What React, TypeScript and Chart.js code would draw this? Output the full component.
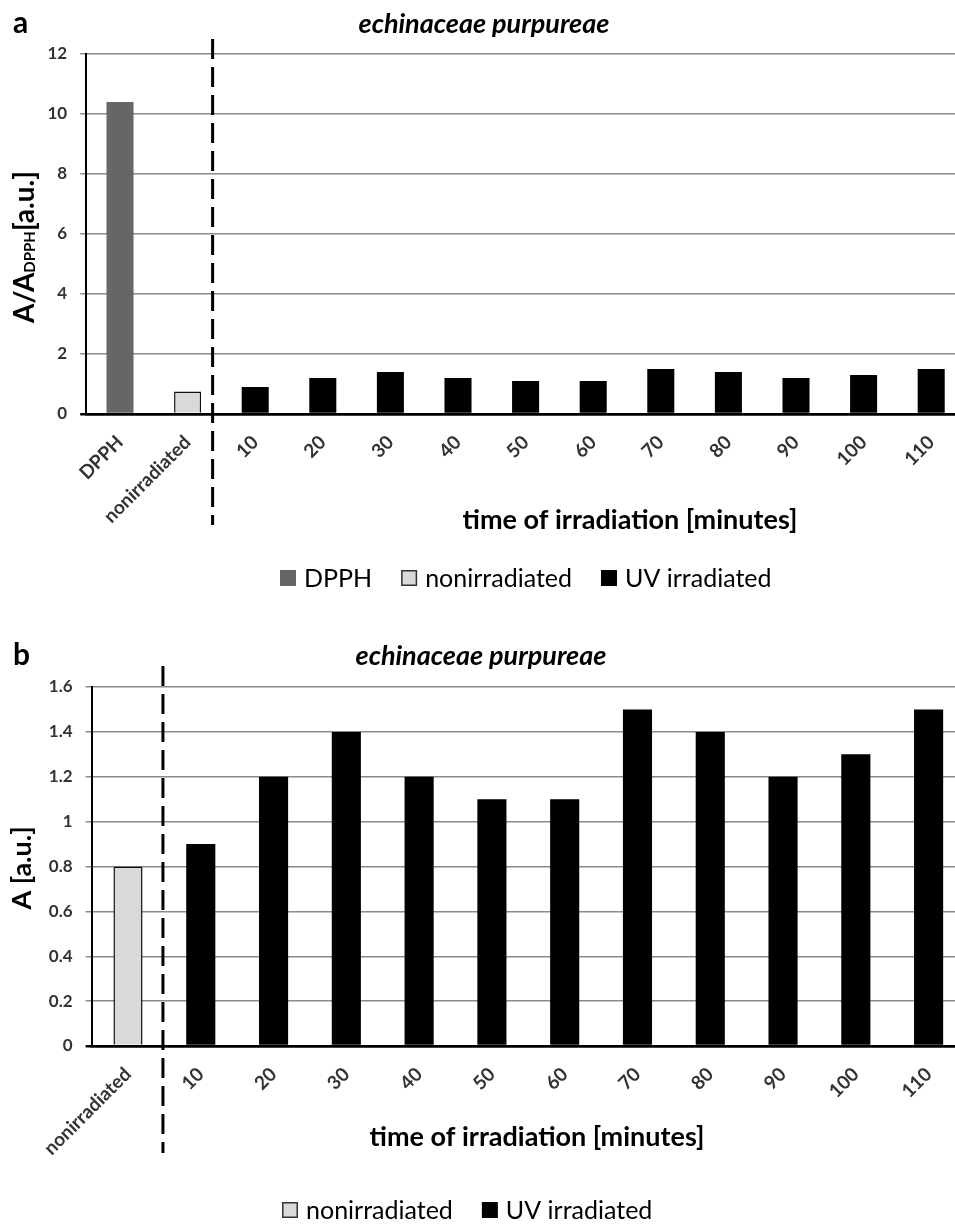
import React, { useEffect, useRef } from 'react';
import { Chart, registerables } from 'chart.js';

Chart.register(...registerables);

// ---------------- data ----------------
const categoriesA = ['DPPH', 'nonirradiated', '10', '20', '30', '40', '50', '60', '70', '80', '90', '100', '110'];
const dpphA = [10.4, null, null, null, null, null, null, null, null, null, null, null, null];
const nonirradiatedA = [null, 0.75, null, null, null, null, null, null, null, null, null, null, null];
const uvA = [null, null, 0.9, 1.2, 1.4, 1.2, 1.1, 1.1, 1.5, 1.4, 1.2, 1.3, 1.5];
const yTicksA = [0, 2, 4, 6, 8, 10, 12];

const categoriesB = ['nonirradiated', '10', '20', '30', '40', '50', '60', '70', '80', '90', '100', '110'];
const nonirradiatedB = [0.8, null, null, null, null, null, null, null, null, null, null, null];
const uvB = [null, 0.9, 1.2, 1.4, 1.2, 1.1, 1.1, 1.5, 1.4, 1.2, 1.3, 1.5];
const yTicksB = [0, 0.2, 0.4, 0.6, 0.8, 1.0, 1.2, 1.4, 1.6];

const seriesLabels = ['DPPH', 'nonirradiated', 'UV irradiated'];
const plantTitle = 'echinaceae purpureae';
const xAxisTitle = 'time of irradiation [minutes]';

// ---------------- styles ----------------
const FONT = 'Lato';
const COL_DPPH = '#666666';
const COL_NON = '#d9d9d9';
const COL_UV = '#000000';

type Part = { text: string; size: number; dy: number };
type DecorCfg = {
  letter: string; letterX: number; letterY: number;
  titleX: number; titleY: number;
  xTitleX: number; xTitleY: number;
  yTitleX: number; yTitleY: number; yTitleParts: Part[];
  dividerIndex: number; dividerFrac: number; dividerTop: number; dividerBottom: number;
  legendX: number; legendY: number;
};

function makeDecor(cfg: DecorCfg) {
  return {
    id: 'decor',
    afterDraw(chart: any) {
      const ctx: CanvasRenderingContext2D = chart.ctx;
      const xs = chart.scales.x;
      ctx.save();
      ctx.fillStyle = '#000';
      ctx.textBaseline = 'alphabetic';

      // panel letter
      ctx.textAlign = 'left';
      ctx.font = `bold 30px ${FONT}`;
      ctx.fillText(cfg.letter, cfg.letterX, cfg.letterY);

      // title
      ctx.textAlign = 'center';
      ctx.font = `italic bold 27px ${FONT}`;
      ctx.fillText(plantTitle, cfg.titleX, cfg.titleY);

      // x axis title
      ctx.font = `bold 27px ${FONT}`;
      ctx.fillText(xAxisTitle, cfg.xTitleX, cfg.xTitleY);

      // y axis title (with subscript)
      ctx.save();
      ctx.translate(cfg.yTitleX, cfg.yTitleY);
      ctx.rotate(-Math.PI / 2);
      ctx.textAlign = 'left';
      const widths = cfg.yTitleParts.map((p) => {
        ctx.font = `bold ${p.size}px ${FONT}`;
        return ctx.measureText(p.text).width;
      });
      const total = widths.reduce((a, b) => a + b, 0);
      let px = -total / 2;
      cfg.yTitleParts.forEach((p, i) => {
        ctx.font = `bold ${p.size}px ${FONT}`;
        ctx.fillText(p.text, px, p.dy);
        px += widths[i];
      });
      ctx.restore();

      // dashed divider
      const step = xs.getPixelForValue(1) - xs.getPixelForValue(0);
      const dx = xs.getPixelForValue(cfg.dividerIndex) + cfg.dividerFrac * step;
      ctx.strokeStyle = '#000';
      ctx.lineWidth = 3;
      ctx.setLineDash([20, 8]);
      ctx.beginPath();
      ctx.moveTo(dx, cfg.dividerTop);
      ctx.lineTo(dx, cfg.dividerBottom);
      ctx.stroke();
      ctx.setLineDash([]);

      // legend
      ctx.font = `25px ${FONT}`;
      ctx.textAlign = 'left';
      let lx = cfg.legendX;
      const box = 16;
      chart.data.datasets.forEach((ds: any) => {
        const top = cfg.legendY - box - 1;
        ctx.fillStyle = ds.backgroundColor;
        ctx.fillRect(lx, top, box, box);
        if (ds.borderWidth) {
          ctx.strokeStyle = '#333';
          ctx.lineWidth = 1.5;
          ctx.strokeRect(lx + 0.75, top + 0.75, box - 1.5, box - 1.5);
        }
        lx += box + 8;
        ctx.fillStyle = '#000';
        ctx.fillText(ds.label, lx, cfg.legendY);
        lx += ctx.measureText(ds.label).width + 29;
      });

      ctx.restore();
    },
  };
}

function baseOptions(yTicks: number[], yWidth: number, xHeight: number, top: number) {
  const step = yTicks[1] - yTicks[0];
  return {
    animation: false,
    responsive: false,
    maintainAspectRatio: false,
    layout: { padding: { top, left: 0, right: 10, bottom: 0 } },
    plugins: { legend: { display: false }, title: { display: false }, tooltip: { enabled: false } },
    datasets: { bar: { grouped: false, barPercentage: 0.4, categoryPercentage: 1 } },
    scales: {
      x: {
        grid: { display: false, drawTicks: false },
        border: { display: true, color: '#000', width: 2.5 },
        ticks: {
          autoSkip: false,
          minRotation: 45,
          maxRotation: 45,
          padding: 17,
          color: '#333333',
          font: { family: FONT, size: 19, weight: 'bold' },
        },
        afterFit(scale: any) { scale.height = xHeight; },
      },
      y: {
        min: yTicks[0],
        max: yTicks[yTicks.length - 1],
        ticks: {
          stepSize: step,
          padding: 13,
          color: '#333333',
          font: { family: FONT, size: 17, weight: 'bold' },
          callback: (v: any) => String(Math.round(Number(v) * 10) / 10),
        },
        grid: {
          drawTicks: true,
          tickLength: 6,
          color: (c: any) => (c.tick && c.tick.value === 0 ? '#000' : '#8a8a8a'),
          lineWidth: (c: any) => (c.tick && c.tick.value === 0 ? 2.5 : 1.5),
        },
        border: { display: true, color: '#000', width: 2 },
        afterFit(scale: any) { scale.width = yWidth; },
      },
    },
  };
}

function ChartA() {
  const ref = useRef<HTMLCanvasElement | null>(null);
  useEffect(() => {
    if (!ref.current) return;
    const chart = new Chart(ref.current, {
      type: 'bar',
      data: {
        labels: categoriesA,
        datasets: [
          { label: seriesLabels[0], data: dpphA, backgroundColor: COL_DPPH, borderWidth: 0 },
          { label: seriesLabels[1], data: nonirradiatedA, backgroundColor: COL_NON, borderColor: '#111', borderWidth: 1.5 },
          { label: seriesLabels[2], data: uvA, backgroundColor: COL_UV, borderWidth: 0 },
        ],
      },
      options: baseOptions(yTicksA, 86.2, 186, 54) as any,
      plugins: [makeDecor({
        letter: 'a', letterX: 13, letterY: 33,
        titleX: 484, titleY: 33,
        xTitleX: 630, xTitleY: 529,
        yTitleX: 34, yTitleY: 247,
        yTitleParts: [
          { text: 'A/A', size: 28, dy: 0 },
          { text: 'DPPH', size: 15, dy: 1 },
          { text: '[a.u.]', size: 28, dy: 0 },
        ],
        dividerIndex: 1, dividerFrac: 0.37, dividerTop: 39, dividerBottom: 525,
        legendX: 280, legendY: 587,
      })],
    });
    return () => chart.destroy();
  }, []);
  return <canvas ref={ref} width={975} height={600} style={{ position: 'absolute', left: 0, top: 0, width: 975, height: 600 }} />;
}

function ChartB() {
  const ref = useRef<HTMLCanvasElement | null>(null);
  useEffect(() => {
    if (!ref.current) return;
    const chart = new Chart(ref.current, {
      type: 'bar',
      data: {
        labels: categoriesB,
        datasets: [
          { label: seriesLabels[1], data: nonirradiatedB, backgroundColor: COL_NON, borderColor: '#111', borderWidth: 1.5 },
          { label: seriesLabels[2], data: uvB, backgroundColor: COL_UV, borderWidth: 0 },
        ],
      },
      options: baseOptions(yTicksB, 91.6, 178, 87) as any,
      plugins: [makeDecor({
        letter: 'b', letterX: 13, letterY: 65,
        titleX: 481, titleY: 65,
        xTitleX: 537, xTitleY: 546,
        yTitleX: 31, yTitleY: 268,
        yTitleParts: [{ text: 'A [a.u.]', size: 27, dy: 0 }],
        dividerIndex: 0, dividerFrac: 0.48, dividerTop: 66, dividerBottom: 553,
        legendX: 282, legendY: 619,
      })],
    });
    return () => chart.destroy();
  }, []);
  return <canvas ref={ref} width={975} height={624} style={{ position: 'absolute', left: 0, top: 600, width: 975, height: 624 }} />;
}

export default function App() {
  return (
    <div style={{ position: 'absolute', left: 0, top: 0, width: 955, height: 1224, overflow: 'hidden', background: '#fff' }}>
      <ChartA />
      <ChartB />
    </div>
  );
}
